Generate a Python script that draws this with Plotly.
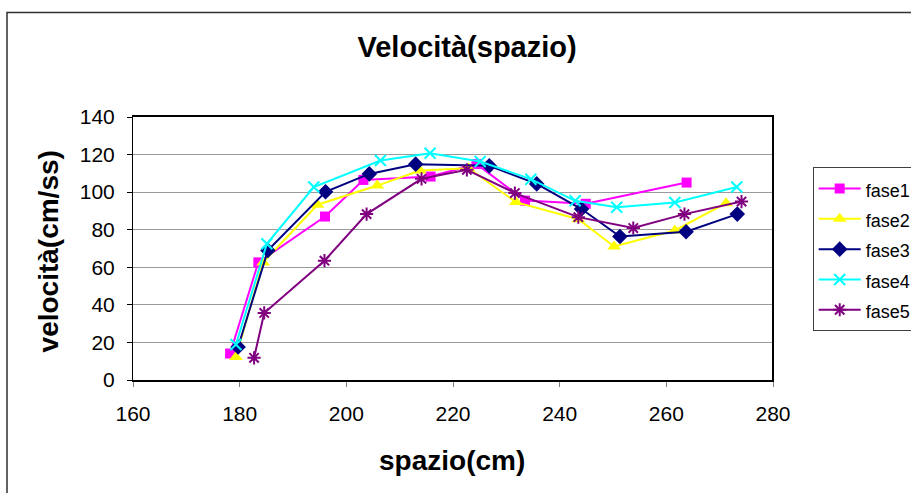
import plotly.graph_objects as go

# Position along the track (cm) and speed (cm/s) for each phase
fase1_x = [178.2, 183.5, 196.0, 203.2, 215.8, 224.4, 233.5, 244.9, 263.8]
fase1_y = [14.1, 62.6, 87.0, 106.5, 108.3, 115.0, 95.5, 93.8, 105.1]

fase2_x = [179.3, 184.4, 194.6, 205.8, 213.8, 222.9, 231.8, 243.5, 250.2, 261.6, 271.2]
fase2_y = [12.3, 62.6, 93.3, 103.5, 111.5, 112.7, 94.7, 85.6, 71.1, 79.6, 94.1]

fase3_x = [179.7, 185.3, 196.1, 204.3, 213.0, 226.8, 235.7, 244.1, 251.3, 263.7, 273.3]
fase3_y = [17.6, 69.0, 100.2, 109.7, 114.9, 114.0, 104.4, 91.0, 76.4, 78.9, 88.3]

fase4_x = [179.3, 185.1, 193.9, 206.4, 215.7, 225.1, 234.6, 242.9, 250.7, 261.6, 273.2]
fase4_y = [18.9, 72.5, 102.7, 116.8, 120.7, 116.3, 106.9, 95.4, 92.0, 94.5, 102.7]

fase5_x = [182.7, 184.6, 195.9, 203.8, 214.1, 222.6, 231.6, 243.5, 253.8, 263.4, 274.1]
fase5_y = [11.8, 35.7, 63.5, 88.3, 107.1, 111.9, 99.5, 86.7, 80.9, 88.3, 95.0]

x_ticks = [160, 180, 200, 220, 240, 260, 280]
y_ticks = [0, 20, 40, 60, 80, 100, 120, 140]

FONT = "Liberation Sans, Arial, sans-serif"

series = [
    ("fase1", fase1_x, fase1_y, "#FF00FF", dict(symbol="square", size=10)),
    ("fase2", fase2_x, fase2_y, "#FFFF00", dict(symbol="triangle-up", size=12)),
    ("fase3", fase3_x, fase3_y, "#000080", dict(symbol="diamond", size=12)),
    ("fase4", fase4_x, fase4_y, "#00FFFF", dict(symbol="x-thin-open", size=11, line=dict(width=2))),
    ("fase5", fase5_x, fase5_y, "#800080", dict(symbol="asterisk-open", size=11, line=dict(width=2))),
]

fig = go.Figure()
for name, xs, ys, color, marker in series:
    m = dict(color=color, **marker)
    if "line" in m:
        m["line"]["color"] = color
    fig.add_trace(go.Scatter(
        x=xs, y=ys, mode="lines+markers",
        # legend rows are spaced by the legend font size; the label itself is a bit smaller
        name=f"<span style='font-size:18px'>{name}</span>",
        line=dict(color=color, width=2),
        marker=m,
    ))

fig.update_layout(
    width=911, height=493,
    margin=dict(l=133, r=138, t=117, b=112.5, autoexpand=False),
    paper_bgcolor="white", plot_bgcolor="white",
    font=dict(family=FONT, color="black"),
    title=dict(
        text="<b>Velocità(spazio)</b>",
        font=dict(family=FONT, size=29, color="black"),
        x=0.522, xref="paper", xanchor="center",
        y=1 - 47 / 493, yref="container", yanchor="middle",
    ),
    xaxis=dict(
        range=[160, 280], tickvals=x_ticks, ticktext=[str(v) for v in x_ticks],
        showgrid=False, zeroline=False,
        showline=True, linecolor="black", linewidth=2, mirror=True,
        ticks="outside", ticklen=5, tickcolor="#808080", tickwidth=1,
        tickfont=dict(family=FONT, size=21, color="black"),
        ticklabelstandoff=9,
    ),
    yaxis=dict(
        range=[0, 140], tickvals=y_ticks, ticktext=[str(v) for v in y_ticks],
        showgrid=True, gridcolor="#9a9a9a", gridwidth=1, zeroline=False,
        showline=True, linecolor="black", linewidth=1, mirror=True,
        ticks="outside", ticklen=5, tickcolor="black", tickwidth=1,
        tickfont=dict(family=FONT, size=21, color="black"),
        ticklabelstandoff=8,
    ),
    legend=dict(
        x=(812.7 - 133) / 640, y=1 - (167.5 - 117) / 263.5,
        xref="paper", yref="paper", xanchor="left", yanchor="top",
        font=dict(family=FONT, size=21, color="black"),
        bordercolor="#404040", borderwidth=1, bgcolor="white",
        tracegroupgap=0, itemwidth=42,
    ),
    showlegend=True,
)

# Axis titles
fig.add_annotation(
    text="<b>spazio(cm)</b>", xref="paper", yref="paper",
    x=(452 - 133) / 640, y=(380.5 - 461) / 263.5,
    xanchor="center", yanchor="middle", showarrow=False,
    font=dict(family=FONT, size=28, color="black"),
)
fig.add_annotation(
    text="<b>velocità(cm/ss)</b>", xref="paper", yref="paper",
    x=(48 - 133) / 640, y=(380.5 - 251.7) / 263.5,
    xanchor="center", yanchor="middle", showarrow=False, textangle=-90,
    font=dict(family=FONT, size=28, color="black"),
)

# Right edge of the plot frame and the outer chart border
fig.add_shape(type="line", xref="paper", yref="paper", x0=1, x1=1, y0=0, y1=1,
              line=dict(color="black", width=2), layer="above")
fig.add_shape(type="rect", xref="paper", yref="paper",
              x0=(7 - 133) / 640, x1=1.4, y0=-0.6, y1=1 + (117 - 12.3) / 263.5,
              line=dict(color="#303030", width=1.5), layer="below")

fig.write_html("out.html")
